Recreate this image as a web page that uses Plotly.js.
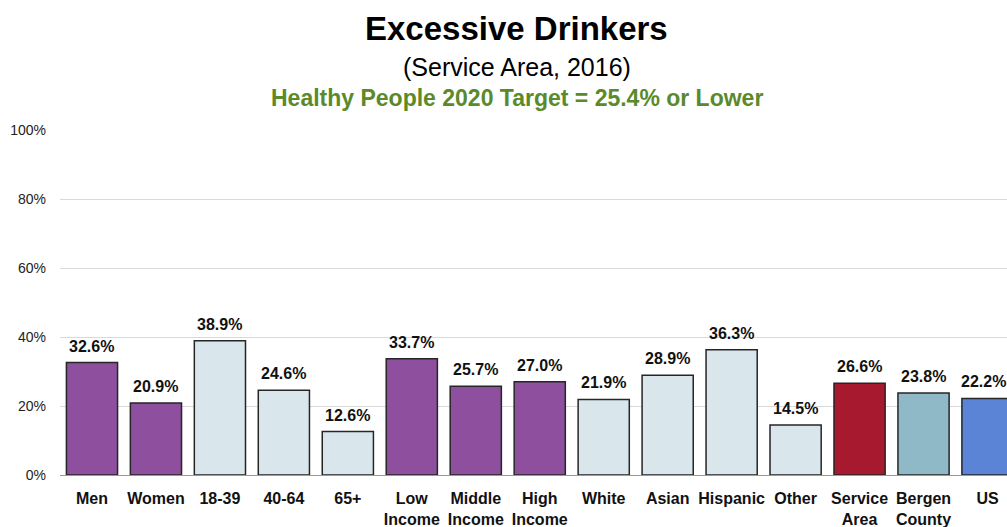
<!DOCTYPE html>
<html>
<head>
<meta charset="utf-8">
<script src="https://cdn.plot.ly/plotly-3.0.1.min.js"></script>
<style>html,body{margin:0;padding:0;background:#fff;}#chart{width:1007px;height:527px;}</style>
</head>
<body>
<div id="chart"></div>
<script>
const categories = ["Men","Women","18-39","40-64","65+","Low<br>Income","Middle<br>Income","High<br>Income","White","Asian","Hispanic","Other","Service<br>Area","Bergen<br>County","US"];
const values = [32.6,20.9,38.9,24.6,12.6,33.7,25.7,27.0,21.9,28.9,36.3,14.5,26.6,23.8,22.2];
const groupColors = ["#8E4F9E","#8E4F9E","#D9E7EC","#D9E7EC","#D9E7EC","#8E4F9E","#8E4F9E","#8E4F9E","#D9E7EC","#D9E7EC","#D9E7EC","#D9E7EC","#A6192E","#8FB9C6","#5B84D6"];
const yTicks = [0,20,40,60,80,100];
const yTickLabels = ["0%","20%","40%","60%","80%","100%"];

const F = "Liberation Sans, Arial, sans-serif";
const idx = categories.map((c,i)=>i);
const trace = {
  type: "bar",
  x: idx,
  y: values,
  marker: {color: groupColors, line: {color: "#262626", width: 1.5}},
  hoverinfo: "none"
};
const valueLabels = values.map((v,i) => ({
  text: "<b>" + v.toFixed(1) + "%</b>", x: i, y: v, xref: "x", yref: "y",
  showarrow: false, yanchor: "bottom", xanchor: "center", yshift: 6,
  xshift: i === values.length - 1 ? -4 : 0,
  font: {family: F, size: 16, color: "#111"}
}));
const cx = (516.5 - 59.5) / 947.5;
const layout = {
  width: 1007, height: 527,
  margin: {l: 59.5, r: 0, t: 130, b: 52},
  paper_bgcolor: "#fff", plot_bgcolor: "#fff",
  bargap: 0.2,
  showlegend: false,
  xaxis: {
    range: [-0.5, 14.305],
    tickvals: idx,
    ticktext: categories.map(c => "<b>" + c.replace("<br>", "</b><br><b>") + "</b>"),
    tickfont: {family: F, size: 16, color: "#111"},
    showgrid: false, zeroline: false,
    showline: true, linecolor: "#999", linewidth: 1,
    ticks: "outside", ticklen: 9, tickcolor: "rgba(0,0,0,0)", fixedrange: true
  },
  yaxis: {
    range: [0, 100],
    tickvals: yTicks, ticktext: yTickLabels,
    tickfont: {family: F, size: 14, color: "#222"},
    showgrid: true, gridcolor: "#d9d9d9", gridwidth: 1,
    zeroline: false, showline: false, ticks: "",
    ticklabelstandoff: 13
  },
  annotations: [
    {text: "<b>Excessive Drinkers</b>", xref: "paper", yref: "paper", x: cx, y: 1, yshift: 102, showarrow: false,
     font: {family: F, size: 33, color: "#000"}, xanchor: "center", yanchor: "middle"},
    {text: "(Service Area, 2016)", xref: "paper", yref: "paper", x: cx, y: 1, yshift: 63, showarrow: false,
     font: {family: F, size: 25, color: "#000"}, xanchor: "center", yanchor: "middle"},
    {text: "<b>Healthy People 2020 Target = 25.4% or Lower</b>", xref: "paper", yref: "paper", x: cx, y: 1, yshift: 32, showarrow: false,
     font: {family: F, size: 23, color: "#5A8A2A"}, xanchor: "center", yanchor: "middle"}
  ].concat(valueLabels)
};
Plotly.newPlot("chart", [trace], layout, {displayModeBar: false, staticPlot: true});
</script>
</body>
</html>
